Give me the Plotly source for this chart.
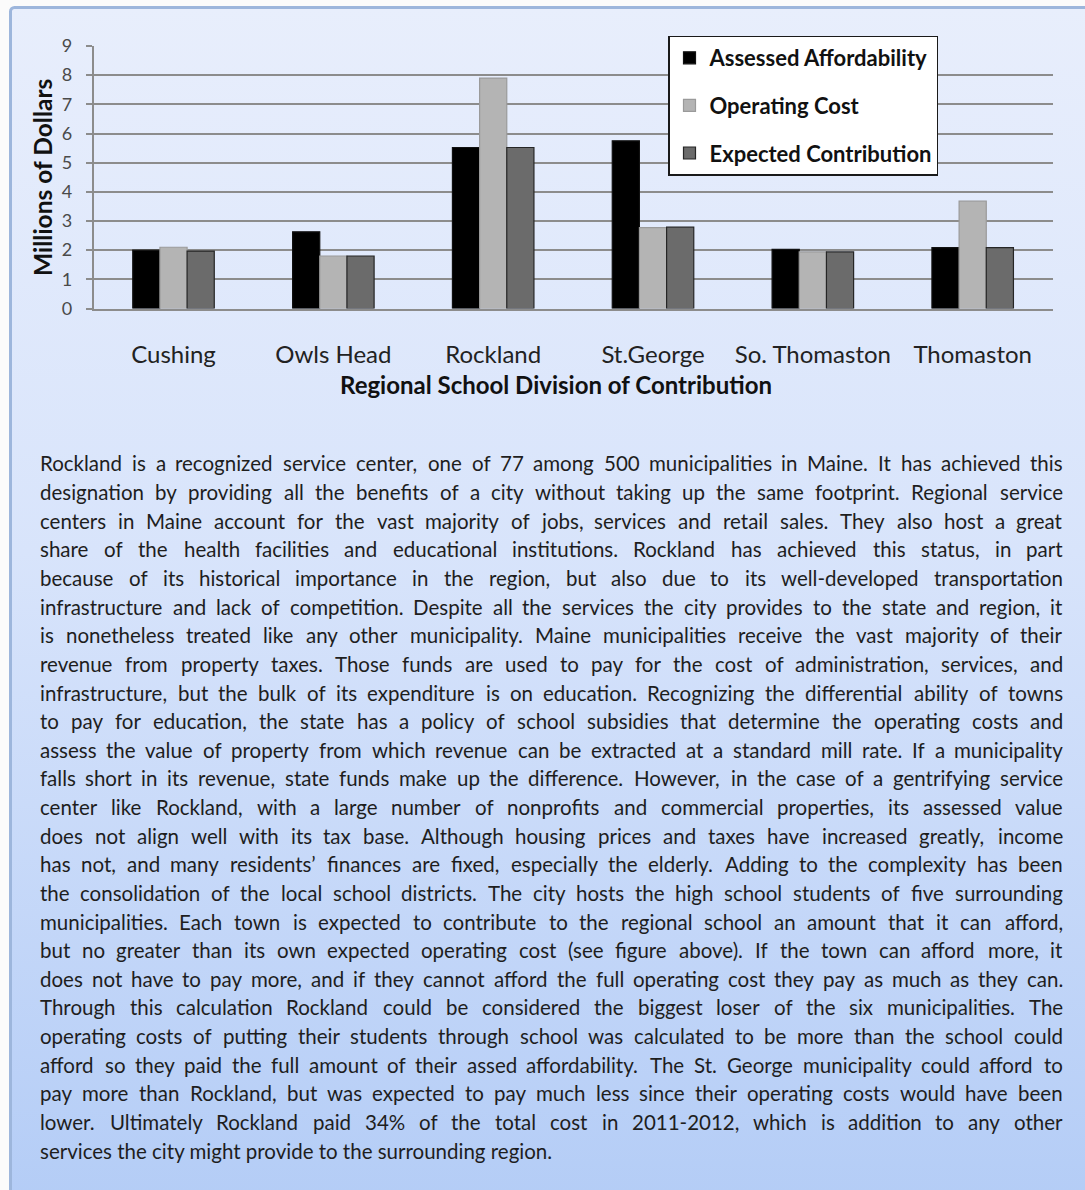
import glob, struct, base64
import plotly.graph_objects as go

# ---------------- data ----------------
towns = ["Cushing", "Owls Head", "Rockland", "St.George", "So. Thomaston", "Thomaston"]
assessed_affordability = [2.0, 2.63, 5.52, 5.75, 2.03, 2.09]
operating_cost = [2.1, 1.8, 7.9, 2.77, 1.94, 3.68]
expected_contribution = [1.97, 1.8, 5.52, 2.79, 1.94, 2.09]
series_names = ["Assessed Affordability", "Operating Cost", "Expected Contribution"]
y_ticks = [0, 1, 2, 3, 4, 5, 6, 7, 8, 9]
x_title = "Regional School Division of Contribution"
y_title = "Millions of Dollars"

paragraph_lines = [
    "Rockland is a recognized service center, one of 77 among 500 municipalities in Maine. It has achieved this",
    "designation by providing all the benefits of a city without taking up the same footprint. Regional service",
    "centers in Maine account for the vast majority of jobs, services and retail sales. They also host a great",
    "share of the health facilities and educational institutions. Rockland has achieved this status, in part",
    "because of its historical importance in the region, but also due to its well-developed transportation",
    "infrastructure and lack of competition. Despite all the services the city provides to the state and region, it",
    "is nonetheless treated like any other municipality. Maine municipalities receive the vast majority of their",
    "revenue from property taxes. Those funds are used to pay for the cost of administration, services, and",
    "infrastructure, but the bulk of its expenditure is on education. Recognizing the differential ability of towns",
    "to pay for education, the state has a policy of school subsidies that determine the operating costs and",
    "assess the value of property from which revenue can be extracted at a standard mill rate. If a municipality",
    "falls short in its revenue, state funds make up the difference. However, in the case of a gentrifying service",
    "center like Rockland, with a large number of nonprofits and commercial properties, its assessed value",
    "does not align well with its tax base. Although housing prices and taxes have increased greatly, income",
    "has not, and many residents\u2019 finances are fixed, especially the elderly. Adding to the complexity has been",
    "the consolidation of the local school districts. The city hosts the high school students of five surrounding",
    "municipalities. Each town is expected to contribute to the regional school an amount that it can afford,",
    "but no greater than its own expected operating cost (see figure above). If the town can afford more, it",
    "does not have to pay more, and if they cannot afford the full operating cost they pay as much as they can.",
    "Through this calculation Rockland could be considered the biggest loser of the six municipalities. The",
    "operating costs of putting their students through school was calculated to be more than the school could",
    "afford so they paid the full amount of their assed affordability. The St. George municipality could afford to",
    "pay more than Rockland, but was  expected to pay much less since their operating costs would have been",
    "lower. Ultimately Rockland paid 34% of the total cost in 2011-2012, which is addition to any other",
    "services the city might provide to the surrounding region.",
]

W, H = 1085, 1190
FONT = "Lato"


# ---------------- font metrics (for justified text) ----------------
def load_metrics(patterns):
    path = None
    for pat in patterns:
        for root in ("/usr/share/fonts", "/usr/local/share/fonts", "/root/.fonts"):
            hits = glob.glob(root + "/**/" + pat, recursive=True)
            if hits:
                path = hits[0]
                break
        if path:
            break
    if not path:
        return None
    try:
        data = open(path, "rb").read()
        num = struct.unpack(">H", data[4:6])[0]
        tabs = {}
        for i in range(num):
            tag, cs, off, ln = struct.unpack(">4sIII", data[12 + 16 * i:28 + 16 * i])
            tabs[tag.decode("latin1")] = off
        upem = struct.unpack(">H", data[tabs["head"] + 18:tabs["head"] + 20])[0]
        nhm = struct.unpack(">H", data[tabs["hhea"] + 34:tabs["hhea"] + 36])[0]
        hm = tabs["hmtx"]
        adv = [struct.unpack(">H", data[hm + 4 * i:hm + 4 * i + 2])[0] for i in range(nhm)]
        cm = tabs["cmap"]
        nsub = struct.unpack(">H", data[cm + 2:cm + 4])[0]
        seginfo = None
        for i in range(nsub):
            pid, eid, off = struct.unpack(">HHI", data[cm + 4 + 8 * i:cm + 12 + 8 * i])
            st = cm + off
            fmt = struct.unpack(">H", data[st:st + 2])[0]
            if fmt == 4 and (pid == 3 or pid == 0):
                segx2 = struct.unpack(">H", data[st + 6:st + 8])[0]
                n = segx2 // 2
                ends = struct.unpack(">%dH" % n, data[st + 14:st + 14 + segx2])
                starts = struct.unpack(">%dH" % n, data[st + 16 + segx2:st + 16 + 2 * segx2])
                deltas = struct.unpack(">%dh" % n, data[st + 16 + 2 * segx2:st + 16 + 3 * segx2])
                rpos = st + 16 + 3 * segx2
                roffs = struct.unpack(">%dH" % n, data[rpos:rpos + segx2])
                seginfo = (ends, starts, deltas, rpos, roffs, n)
                break
        if seginfo is None:
            return None
        ends, starts, deltas, rpos, roffs, n = seginfo
        cache = {}

        def glyph(c):
            if c in cache:
                return cache[c]
            g = 0
            for s in range(n):
                if ends[s] >= c:
                    if starts[s] <= c:
                        if roffs[s] == 0:
                            g = (c + deltas[s]) & 0xFFFF
                        else:
                            a = rpos + 2 * s + roffs[s] + 2 * (c - starts[s])
                            g = struct.unpack(">H", data[a:a + 2])[0]
                            if g:
                                g = (g + deltas[s]) & 0xFFFF
                    break
            cache[c] = g
            return g

        def width(text):
            t = 0
            for ch in text:
                g = glyph(ord(ch))
                t += adv[min(g, nhm - 1)]
            return t / upem

        return width
    except Exception:
        return None


text_width = load_metrics(["Lato-Regular.ttf", "Lato-Reg*.ttf"])

# ---------------- figure ----------------
colors = ["#000000", "#b4b4b4", "#6b6b6b"]
outlines = ["#111111", "#9a9a9a", "#262626"]
values = [assessed_affordability, operating_cost, expected_contribution]

fig = go.Figure()
for i, (name, vals) in enumerate(zip(series_names, values)):
    fig.add_trace(go.Bar(
        x=towns, y=vals, name=name, legendgroup=name,
        marker=dict(color=colors[i], line=dict(color=outlines[i], width=1.2)),
    ))

x0, x1 = 93.6, 1052.6
ytop, ybot = 46.0, 308.5

grid_c = "#8c8c8c"
fig.update_layout(
    width=W, height=H,
    margin=dict(l=0, r=0, t=0, b=0, autoexpand=False),
    paper_bgcolor="#ffffff",
    plot_bgcolor="rgba(0,0,0,0)",
    barmode="group", bargap=0.49, bargroupgap=0.0,
    font=dict(family=FONT, color="#222222"),
    showlegend=True,
    legend=dict(
        x=668 / W, y=1 - 35.5 / H, xanchor="left", yanchor="top",
        bgcolor="#ffffff", bordercolor="#1a1a1a", borderwidth=1.5,
        font=dict(family=FONT, size=22, color="#111111", weight="bold"),
        traceorder="grouped", tracegroupgap=16,
    ),
    xaxis=dict(
        domain=[x0 / W, x1 / W], showgrid=False, zeroline=False,
        showline=True, linecolor=grid_c, linewidth=1.5, automargin=False,
        ticks="", tickfont=dict(family=FONT, size=24, color="#222222"),
        ticklabelstandoff=24,
    ),
    yaxis=dict(
        domain=[1 - ybot / H, 1 - ytop / H], range=[0, 9], automargin=False,
        tickvals=y_ticks, showgrid=True, gridcolor=grid_c, gridwidth=1.5,
        zeroline=False, showline=True, linecolor=grid_c, linewidth=1.5,
        ticks="outside", ticklen=6, tickcolor=grid_c, tickwidth=1.5,
        tickfont=dict(family=FONT, size=18, color="#4a4a4a"),
        ticklabelstandoff=10,
    ),
)

# background gradient panel with frame
svg = (
    '<svg xmlns="http://www.w3.org/2000/svg" width="%d" height="%d">'
    '<defs><linearGradient id="g" x1="0" y1="0" x2="0" y2="1">'
    '<stop offset="0" stop-color="#e8eefc"/>'
    '<stop offset="0.45" stop-color="#d8e4fb"/>'
    '<stop offset="1" stop-color="#b3ccf6"/></linearGradient></defs>'
    '<rect width="%d" height="%d" fill="#fbfbfb"/>'
    '<rect x="10.5" y="7.5" width="1100" height="1210" rx="4" fill="url(#g)" '
    'stroke="#9db6dc" stroke-width="3"/></svg>'
) % (W, H, W, H)
src = "data:image/svg+xml;base64," + base64.b64encode(svg.encode()).decode()
fig.add_layout_image(dict(
    source=src, xref="paper", yref="paper", x=0, y=1, sizex=1, sizey=1,
    xanchor="left", yanchor="top", sizing="stretch", layer="below",
))

annotations = []
# axis titles
annotations.append(dict(
    text=x_title, x=555.5 / W, y=1 - 385 / H, xref="paper", yref="paper",
    showarrow=False, xanchor="center", yanchor="middle",
    font=dict(family=FONT, size=24, color="#111111", weight="bold"),
))
annotations.append(dict(
    text=y_title, x=42 / W, y=1 - 178 / H, xref="paper", yref="paper",
    showarrow=False, xanchor="center", yanchor="middle", textangle=-90,
    font=dict(family=FONT, size=24.5, color="#111111", weight="bold"),
))

# justified paragraph
L, R = 40.0, 1063.0
first_y, step = 463.5, 28.63
tcol = "#1e1e1e"
if text_width is not None:
    nat = max(text_width(ln) for ln in paragraph_lines[:-1])
    fsize = min(20.5, 0.985 * (R - L) / nat)
else:
    fsize = 18.5


def ann(text, px, py, anchor):
    return dict(text=text, x=px / W, y=1 - py / H, xref="paper", yref="paper",
                showarrow=False, xanchor=anchor, yanchor="middle",
                borderpad=0, borderwidth=0,
                font=dict(family=FONT, size=fsize, color=tcol))


for k, line in enumerate(paragraph_lines):
    py = first_y + k * step
    words = line.split()
    last = k == len(paragraph_lines) - 1
    if last or text_width is None or len(words) < 2:
        annotations.append(ann(line, L, py, "left"))
        continue
    ws = [text_width(w) * fsize for w in words]
    gap = (R - L - sum(ws)) / (len(words) - 1)
    x = L
    for j, w in enumerate(words):
        if j == len(words) - 1:
            annotations.append(ann(w, R, py, "right"))
        else:
            annotations.append(ann(w, x, py, "left"))
        x += ws[j] + gap

fig.update_layout(annotations=annotations)

post = (
    "document.documentElement.style.margin='0';"
    "document.documentElement.style.overflow='hidden';"
    "document.body.style.margin='0';document.body.style.overflow='hidden';"
    "var _d=document.querySelector('.plotly-graph-div');"
    "if(_d){_d.style.position='fixed';_d.style.top='0px';_d.style.left='0px';}"
)
fig.write_html("out.html", config={"displayModeBar": False}, post_script=post)
